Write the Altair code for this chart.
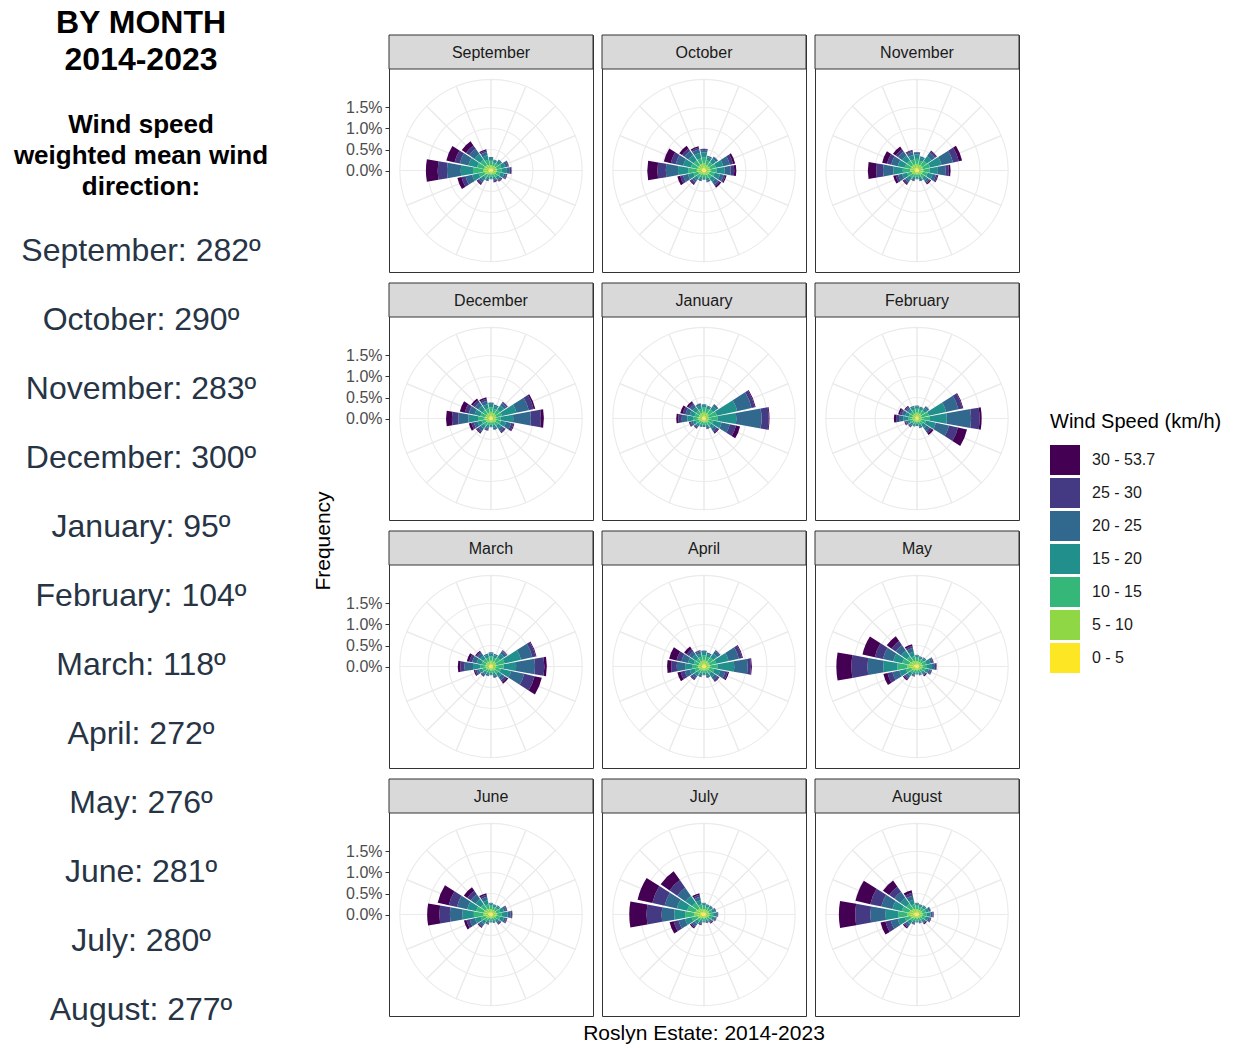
import math
import altair as alt
import pandas as pd

# ---------------- data ----------------
months = ["September", "October", "November", "December", "January", "February",
          "March", "April", "May", "June", "July", "August"]
mean_dir = [282, 290, 283, 300, 95, 104, 118, 272, 276, 281, 280, 277]

dir_labels = ["N", "NNE", "NE", "ENE", "E", "ESE", "SE", "SSE",
              "S", "SSW", "SW", "WSW", "W", "WNW", "NW", "NNW"]
dir_angles = [0, 22.5, 45, 67.5, 90, 112.5, 135, 157.5,
              180, 202.5, 225, 247.5, 270, 292.5, 315, 337.5]

speed_classes = ["0 - 5", "5 - 10", "10 - 15", "15 - 20", "20 - 25", "25 - 30", "30 - 53.7"]
speed_colors = ["#FDE725", "#8FD744", "#35B779", "#21908C", "#31688E", "#443A83", "#440154"]

# frequency (%) per direction (N..NNW), per speed class (0-5 .. 30-53.7)
sep = [[.05,.08,.10,.07,.02,0,0], [.05,.07,.08,.05,.02,0,0], [.05,.08,.09,.07,.03,0,0],
       [.05,.09,.11,.10,.06,.02,.01], [.05,.09,.12,.12,.07,.03,.01], [.05,.08,.10,.09,.05,.02,.01],
       [.05,.07,.08,.06,.03,.02,.02], [.04,.06,.07,.05,.03,.02,.02], [.04,.05,.06,.04,.02,0,0],
       [.04,.06,.07,.05,.03,.01,0], [.05,.07,.09,.08,.06,.04,.03], [.06,.10,.14,.16,.16,.10,.10],
       [.07,.12,.24,.29,.33,.22,.28], [.06,.11,.17,.21,.21,.13,.20], [.06,.10,.15,.17,.15,.10,.12],
       [.05,.09,.12,.11,.08,.04,.03]]
oct_ = [[.06,.11,.14,.12,.06,.02,.01], [.05,.09,.11,.08,.03,0,0], [.05,.09,.11,.10,.05,.01,0],
        [.05,.10,.14,.18,.16,.08,.05], [.05,.10,.15,.19,.15,.08,.05], [.05,.09,.12,.13,.09,.04,.03],
        [.05,.08,.10,.10,.08,.05,.04], [.04,.07,.08,.06,.03,.01,0], [.04,.06,.06,.04,.02,0,0],
        [.04,.06,.07,.05,.03,.01,0], [.05,.07,.09,.08,.06,.04,.03], [.05,.09,.12,.13,.12,.07,.07],
        [.06,.11,.20,.25,.29,.20,.24], [.06,.10,.16,.19,.18,.12,.17], [.06,.10,.14,.15,.12,.07,.08],
        [.06,.10,.14,.13,.09,.04,.03]]
nov = [[.06,.10,.12,.10,.05,.01,0], [.05,.09,.10,.08,.03,0,0], [.05,.10,.13,.14,.10,.04,.02],
       [.05,.10,.17,.28,.28,.14,.08], [.05,.10,.15,.20,.18,.08,.04], [.05,.09,.12,.12,.08,.04,.02],
       [.05,.08,.09,.08,.05,.03,.03], [.04,.06,.07,.05,.03,.01,0], [.04,.05,.06,.04,.02,0,0],
       [.04,.06,.07,.05,.03,.01,0], [.05,.07,.09,.08,.06,.04,.03], [.05,.08,.11,.12,.10,.06,.06],
       [.06,.10,.18,.22,.25,.16,.20], [.06,.10,.14,.17,.16,.10,.12], [.06,.10,.13,.14,.12,.07,.08],
       [.06,.09,.12,.11,.07,.03,.02]]
dec = [[.06,.10,.11,.08,.03,0,0], [.05,.09,.10,.07,.03,0,0], [.05,.09,.12,.12,.07,.03,.01],
       [.05,.08,.14,.35,.30,.12,.04], [.04,.07,.12,.30,.42,.24,.07], [.05,.08,.11,.13,.12,.06,.02],
       [.05,.07,.09,.09,.07,.04,.02], [.04,.06,.07,.06,.04,.01,0], [.04,.05,.06,.04,.02,0,0],
       [.04,.06,.07,.06,.04,.02,.01], [.05,.07,.09,.09,.07,.04,.03], [.05,.08,.10,.10,.09,.06,.06],
       [.05,.10,.16,.23,.24,.15,.14], [.05,.09,.12,.14,.14,.10,.12], [.05,.09,.11,.12,.10,.06,.05],
       [.05,.09,.11,.10,.08,.05,.04]]
jan = [[.06,.10,.10,.06,.02,0,0], [.05,.09,.10,.06,.02,0,0], [.05,.09,.12,.10,.05,.01,0],
       [.04,.07,.20,.50,.35,.08,.02], [.04,.07,.22,.44,.60,.17,.02], [.04,.07,.12,.20,.20,.15,.10],
       [.05,.07,.09,.09,.07,.04,.03], [.04,.06,.07,.05,.03,.01,0], [.04,.05,.05,.04,.02,0,0],
       [.04,.05,.06,.04,.02,0,0], [.04,.06,.07,.06,.04,.02,.01], [.05,.07,.08,.07,.05,.03,.02],
       [.05,.09,.12,.14,.13,.08,.05], [.05,.08,.10,.12,.10,.07,.06], [.05,.08,.10,.10,.08,.05,.04],
       [.05,.09,.10,.08,.04,.01,0]]
feb = [[.05,.09,.09,.06,.02,0,0], [.05,.08,.09,.05,.02,0,0], [.05,.08,.10,.08,.04,.01,0],
       [.04,.07,.18,.42,.30,.10,.02], [.04,.07,.20,.40,.58,.20,.05], [.04,.06,.12,.24,.32,.22,.22],
       [.04,.06,.08,.10,.09,.06,.05], [.04,.05,.06,.05,.03,.01,0], [.03,.05,.05,.03,.02,0,0],
       [.04,.05,.05,.04,.02,0,0], [.04,.05,.06,.05,.03,.02,.01], [.04,.06,.07,.06,.04,.02,.02],
       [.04,.07,.10,.12,.10,.07,.05], [.04,.07,.09,.09,.08,.05,.04], [.05,.07,.08,.07,.05,.03,.02],
       [.05,.08,.09,.06,.03,0,0]]
mar = [[.05,.09,.10,.07,.03,0,0], [.05,.08,.09,.06,.03,0,0], [.05,.09,.12,.12,.07,.02,.01],
       [.05,.08,.20,.40,.28,.08,.02], [.04,.08,.18,.30,.45,.22,.06], [.04,.07,.13,.25,.32,.25,.18],
       [.05,.07,.09,.10,.09,.06,.04], [.04,.06,.07,.06,.04,.01,0], [.04,.05,.06,.04,.02,0,0],
       [.04,.05,.06,.05,.03,.01,0], [.04,.06,.07,.06,.04,.02,.01], [.05,.07,.09,.08,.06,.04,.03],
       [.05,.08,.12,.18,.20,.10,.06], [.05,.08,.10,.12,.11,.07,.06], [.05,.08,.10,.09,.07,.04,.03],
       [.05,.08,.09,.07,.03,0,0]]
apr = [[.06,.10,.11,.08,.03,0,0], [.05,.09,.10,.07,.03,0,0], [.05,.09,.12,.12,.08,.02,0],
       [.05,.09,.16,.30,.25,.08,.02], [.05,.09,.18,.40,.32,.08,.02], [.05,.08,.12,.15,.12,.06,.03],
       [.05,.07,.09,.10,.08,.04,.02], [.04,.06,.07,.06,.04,.01,0], [.04,.05,.06,.04,.02,0,0],
       [.04,.06,.07,.05,.03,.01,0], [.05,.07,.08,.08,.06,.04,.02], [.05,.08,.10,.12,.12,.10,.08],
       [.05,.09,.13,.18,.20,.13,.10], [.05,.08,.12,.14,.16,.12,.18], [.05,.08,.10,.11,.10,.07,.07],
       [.05,.09,.10,.08,.05,.02,.01]]
may = [[.05,.08,.08,.05,.02,0,0], [.05,.07,.07,.04,.02,0,0], [.05,.07,.08,.05,.02,0,0],
       [.05,.08,.10,.10,.05,.02,.01], [.05,.08,.11,.12,.07,.03,.01], [.05,.07,.09,.08,.05,.02,.01],
       [.04,.06,.07,.05,.03,.02,.02], [.04,.05,.06,.04,.02,.01,0], [.04,.05,.05,.03,.02,0,0],
       [.04,.05,.06,.05,.03,.01,.01], [.05,.07,.08,.08,.06,.04,.03], [.05,.09,.13,.16,.17,.12,.10],
       [.09,.14,.24,.33,.38,.38,.36], [.07,.12,.17,.22,.25,.20,.30], [.06,.10,.14,.16,.16,.12,.14],
       [.05,.09,.11,.11,.09,.05,.04]]
jun = [[.05,.08,.08,.05,.02,0,0], [.05,.07,.07,.04,.02,0,0], [.05,.07,.08,.05,.02,0,0],
       [.05,.08,.10,.09,.05,.02,.01], [.05,.09,.12,.13,.08,.03,.01], [.05,.08,.10,.09,.05,.02,.01],
       [.04,.06,.07,.06,.04,.02,.01], [.04,.05,.06,.04,.02,0,0], [.04,.05,.05,.03,.02,0,0],
       [.04,.05,.06,.05,.03,.01,.01], [.05,.07,.08,.08,.06,.03,.02], [.05,.08,.12,.14,.13,.08,.06],
       [.07,.12,.22,.27,.30,.25,.29], [.07,.11,.18,.22,.25,.20,.27], [.06,.10,.14,.15,.14,.10,.10],
       [.05,.09,.11,.10,.08,.05,.04]]
jul = [[.05,.08,.08,.05,.02,0,0], [.05,.07,.07,.04,.02,0,0], [.05,.07,.07,.05,.02,0,0],
       [.05,.07,.08,.06,.03,.01,0], [.05,.08,.09,.07,.04,.01,0], [.05,.07,.08,.06,.03,.01,.01],
       [.04,.06,.06,.04,.03,.02,.02], [.04,.05,.05,.03,.02,.01,.01], [.04,.05,.05,.03,.02,0,0],
       [.04,.05,.06,.05,.03,.02,.01], [.05,.07,.08,.08,.06,.04,.03], [.06,.10,.14,.16,.16,.12,.10],
       [.09,.14,.22,.26,.30,.36,.41], [.08,.13,.20,.25,.30,.30,.36], [.07,.11,.16,.20,.24,.22,.26],
       [.05,.09,.11,.10,.08,.05,.04]]
aug = [[.05,.08,.08,.05,.02,0,0], [.05,.07,.07,.04,.02,0,0], [.05,.07,.08,.05,.02,0,0],
       [.05,.08,.09,.07,.04,.01,0], [.05,.08,.10,.09,.05,.02,.01], [.05,.07,.09,.07,.04,.02,.01],
       [.04,.06,.07,.05,.03,.02,.02], [.04,.05,.06,.04,.02,.01,0], [.04,.05,.05,.03,.02,0,0],
       [.04,.05,.06,.05,.03,.01,.01], [.05,.07,.08,.08,.06,.04,.03], [.06,.10,.14,.17,.17,.13,.12],
       [.09,.14,.22,.30,.36,.36,.39], [.07,.12,.18,.23,.27,.27,.36], [.06,.10,.15,.17,.18,.15,.18],
       [.05,.09,.11,.11,.10,.07,.06]]
month_data = [sep, oct_, nov, dec, jan, feb, mar, apr, may, jun, jul, aug]

ring_values = [0.5, 1.0, 1.5]
axis_values = [0.0, 0.5, 1.0, 1.5]

# ---------------- layout constants ----------------
PX = 42.0          # pixels per 1 % frequency
W = 204            # facet cell width
H = 237            # facet cell height (strip + panel)
STRIP = 34
COL_GAP = 9
ROW_GAP = 11
CENTER_FROM_BOTTOM = (H - STRIP) / 2.0
R_OUT = 2.17       # outer grid circle (%)
HALF_WIDTH = 10    # half angular width of each wedge (deg)
LEFT_W = 388
FONT = "Liberation Sans"

# ---------------- build table ----------------
rows = []
for m, mdata in zip(months, month_data):
    for ang, vals in zip(dir_angles, mdata):
        cum = 0.0
        for sc, v in zip(speed_classes, vals):
            if v > 0:
                rows.append(dict(kind="bar", month=m, speed=sc, t0=ang - HALF_WIDTH,
                                 t1=ang + HALF_WIDTH, r0=cum, r1=cum + v, cx=0.0, cy=0.0))
            cum += v
    for ang in dir_angles:
        rows.append(dict(kind="sector", month=m, speed="", t0=ang, t1=ang + 22.5,
                         r0=0.0, r1=R_OUT, cx=0.0, cy=0.0))
    for rv in ring_values:
        rows.append(dict(kind="ring", month=m, speed="", t0=0.0, t1=360.0,
                         r0=0.0, r1=rv, cx=0.0, cy=0.0))
    rows.append(dict(kind="strip", month=m, speed="", t0=0.0, t1=0.0,
                     r0=0.0, r1=0.0, cx=0.0, cy=0.0))
df = pd.DataFrame(rows)

x_enc = alt.X("cx:Q", scale=alt.Scale(domain=[-W / 2 / PX, W / 2 / PX], nice=False, zero=False),
              axis=None)
y_enc = alt.Y("cy:Q",
              scale=alt.Scale(domain=[-CENTER_FROM_BOTTOM / PX, (H - CENTER_FROM_BOTTOM) / PX],
                              nice=False, zero=False),
              axis=alt.Axis(values=axis_values, labelExpr="format(datum.value, '.1f') + '%'",
                            domain=False, grid=False, ticks=True, tickSize=4,
                            tickColor="#333333", labelColor="#4D4D4D", labelFontSize=16,
                            labelFont=FONT, labelPadding=3, title=None))
theta_enc = alt.Theta("t0:Q", scale=alt.Scale(domain=[0, 360], range=[0, 2 * math.pi]),
                      stack=None)
theta2_enc = alt.Theta2("t1:Q")
radius_enc = alt.Radius("r1:Q", scale=alt.Scale(type="linear", domain=[0, 3], range=[0, 3 * PX]))
radius2_enc = alt.Radius2("r0:Q")

sectors = alt.Chart().transform_filter(alt.datum.kind == "sector").mark_arc(
    fill="transparent", stroke="#EBEBEB", strokeWidth=1.1
).encode(x=x_enc, y=y_enc, theta=theta_enc, theta2=theta2_enc,
         radius=radius_enc, radius2=radius2_enc)

rings = alt.Chart().transform_filter(alt.datum.kind == "ring").mark_arc(
    fill="transparent", stroke="#EBEBEB", strokeWidth=1.1
).encode(x=x_enc, y=y_enc, theta=theta_enc, theta2=theta2_enc,
         radius=radius_enc, radius2=radius2_enc)

bars = alt.Chart().transform_filter(alt.datum.kind == "bar").mark_arc().encode(
    x=x_enc, y=y_enc, theta=theta_enc, theta2=theta2_enc,
    radius=radius_enc, radius2=radius2_enc,
    color=alt.Color("speed:N",
                    scale=alt.Scale(domain=speed_classes[::-1], range=speed_colors[::-1]),
                    legend=alt.Legend(title="Wind Speed (km/h)", orient="none",
                                      legendX=1049, legendY=411,
                                      titleFontSize=20, titleFontWeight="normal",
                                      titleColor="#000000", titleFont=FONT, titlePadding=13,
                                      labelFontSize=16, labelColor="#1A1A1A", labelFont=FONT,
                                      labelOffset=12, symbolType="square", symbolSize=900,
                                      symbolStrokeWidth=0, rowPadding=3)),
)

strip_rect = alt.Chart().transform_filter(alt.datum.kind == "strip").mark_rect(
    fill="#D9D9D9", stroke="#333333", strokeWidth=1
).encode(x=alt.value(0), x2=alt.value(W), y=alt.value(0), y2=alt.value(STRIP))

strip_text = alt.Chart().transform_filter(alt.datum.kind == "strip").mark_text(
    fontSize=16, font=FONT, color="#1A1A1A", baseline="middle", align="center"
).encode(x=alt.value(W / 2), y=alt.value(STRIP / 2 + 1), text="month:N")

panel = alt.layer(sectors, rings, bars, strip_rect, strip_text, data=df).properties(
    width=W, height=H)

facet = panel.facet(
    facet=alt.Facet("month:N", sort=months,
                    header=alt.Header(labels=False, title=None, labelColor="transparent",
                                      labelFontSize=1, labelPadding=0),
                    title=None),
    columns=3,
    spacing={"row": ROW_GAP, "column": COL_GAP},
    bounds="flush",
).properties(
    title=alt.TitleParams("Roslyn Estate: 2014-2023", orient="bottom", anchor="start",
                          align="center", dx=(3 * W + 2 * COL_GAP) / 2,
                          frame="group", fontSize=21, fontWeight="normal", font=FONT,
                          color="#000000", offset=6)
)

spacer = alt.Chart(pd.DataFrame({"v": [0]})).mark_point(opacity=0).properties(
    width=10, height=STRIP, view=alt.ViewBackground(stroke="transparent"))

# ---------------- left text column ----------------
heading = "BY MONTH\n2014-2023"
subheading = "Wind speed\nweighted mean wind\ndirection:"
lines_df = pd.DataFrame({
    "i": list(range(len(months))),
    "label": [f"{m}: {d}º" for m, d in zip(months, mean_dir)],
})

head_layer = alt.Chart(pd.DataFrame({"t": [heading]})).mark_text(
    font=FONT, fontSize=32, fontWeight="bold", lineBreak="\n", lineHeight=37,
    align="center", baseline="middle", color="#000000"
).encode(x=alt.value(140), y=alt.value(22), text="t:N")

sub_layer = alt.Chart(pd.DataFrame({"t": [subheading]})).mark_text(
    font=FONT, fontSize=26, fontWeight="bold", lineBreak="\n", lineHeight=31,
    align="center", baseline="middle", color="#000000"
).encode(x=alt.value(140), y=alt.value(124), text="t:N")

month_layer = alt.Chart(lines_df).mark_text(
    font=FONT, fontSize=32, align="center", baseline="middle", color="#263445"
).encode(
    x=alt.value(140),
    y=alt.Y("i:Q", scale=alt.Scale(domain=[0, 11], range=[250, 1009]), axis=None),
    text="label:N",
)

freq_layer = alt.Chart(pd.DataFrame({"t": ["Frequency"]})).mark_text(
    font=FONT, fontSize=21, angle=270, align="center", baseline="middle", color="#000000"
).encode(x=alt.value(323), y=alt.value(540), text="t:N")

left = alt.layer(head_layer, sub_layer, month_layer, freq_layer).properties(
    width=LEFT_W, height=1040, view=alt.ViewBackground(stroke="transparent"))

right = alt.vconcat(spacer, facet, spacing=0, bounds="flush")

chart = alt.hconcat(left, right, spacing=0, bounds="flush").properties(
    padding=0
).configure(font=FONT).configure_view(
    stroke="#333333", strokeWidth=1
).configure_header(labels=False, labelColor="transparent").configure_headerFacet(
    labels=False, labelColor="transparent")

chart.save("out.html", embed_options={"renderer": "svg", "actions": False})
